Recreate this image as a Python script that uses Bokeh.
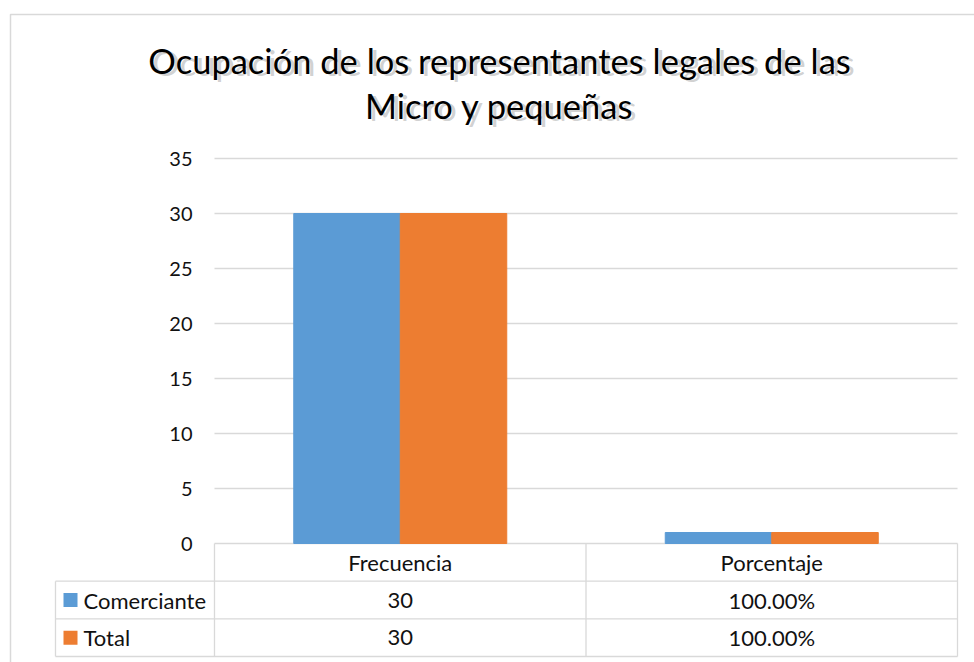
from bokeh.plotting import figure
from bokeh.models import Range1d, FixedTicker, ColumnDataSource
from bokeh.transform import dodge
from bokeh.core.properties import value
from bokeh.embed import file_html
from bokeh.resources import INLINE

# ---- data ----
title_lines = ["Ocupación de los representantes legales de las", "Micro y pequeñas"]
categories = ["Frecuencia", "Porcentaje"]
series_names = ["Comerciante", "Total"]
comerciante = [30, 1.0]
total = [30, 1.0]
table_comerciante = ["30", "100.00%"]
table_total = ["30", "100.00%"]
y_ticks = [0, 5, 10, 15, 20, 25, 30, 35]

# ---- style / layout (pixel geometry of the canvas) ----
series_colors = ["#5B9BD5", "#ED7D31"]
FONT = "Lato"
TXT = "#111111"
GRID = "#d9d9d9"
W, H = 974, 662
X0, X_UNIT = 214.0, 371.5      # canvas px of x=0, px per category
Y0, Y_UNIT = 543.0, 11.0       # canvas px of y=0, px per y unit
ROW_PX = 113.0 / 3.0           # table row height in px


def xc(px):
    return (px - X0) / X_UNIT


def yc(px):
    return (Y0 - px) / Y_UNIT


row_h = ROW_PX / Y_UNIT
n = len(categories)

p = figure(width=W, height=H, title=None,
           x_range=Range1d(xc(0), xc(W)), y_range=Range1d(yc(H), yc(0)),
           x_axis_location=None, y_axis_location="left",
           output_backend="svg", toolbar_location=None,
           min_border_left=0, min_border_right=0, min_border_top=0, min_border_bottom=0)
p.outline_line_color = None
p.background_fill_color = "white"
p.border_fill_color = "white"
p.xgrid.visible = False
p.ygrid.visible = False

ax = p.yaxis[0]
ax.fixed_location = 0
ax.ticker = FixedTicker(ticks=y_ticks)
ax.axis_line_color = None
ax.major_tick_line_color = None
ax.minor_tick_line_color = None
ax.major_tick_out = 0
ax.major_tick_in = 0
ax.major_label_standoff = 22
ax.major_label_text_font = FONT
ax.major_label_text_font_size = "20px"
ax.major_label_text_color = TXT

# outer chart border (top and left edges visible)
p.line(x=[xc(10), xc(10), xc(W + 5)], y=[yc(H + 5), yc(14), yc(14)],
       line_color=GRID, line_width=1.5)

# horizontal grid lines at the y ticks
p.segment(x0=[0] * len(y_ticks), x1=[n] * len(y_ticks), y0=y_ticks, y1=y_ticks,
          line_color=GRID, line_width=1.3)

# bars
xpos = [i + 0.5 for i in range(n)]
src = ColumnDataSource(dict(x=xpos, cat=categories, comerciante=comerciante, total=total,
                            lab_c=table_comerciante, lab_t=table_total))
bw = 106.5 / X_UNIT
p.vbar(x=dodge("x", -bw / 2), top="comerciante", width=bw, color=series_colors[0], source=src)
p.vbar(x=dodge("x", bw / 2), top="total", width=bw, color=series_colors[1], source=src)

# ---- data table under the chart ----
x_tab_left = xc(55)
rows_y = [-row_h * k for k in (1, 2, 3)]
p.segment(x0=[x_tab_left] * 3, x1=[n] * 3, y0=rows_y, y1=rows_y,
          line_color=GRID, line_width=1.3)
vx = [float(i) for i in range(n + 1)]
p.segment(x0=vx + [x_tab_left], x1=vx + [x_tab_left],
          y0=[0] * len(vx) + [-row_h], y1=[-3 * row_h] * (len(vx) + 1),
          line_color=GRID, line_width=1.3)

txt_kw = dict(text_align="center", text_baseline="middle", text_font=value(FONT),
              text_font_size="22px", text_color=TXT, source=src)
p.text(x="x", y=-0.5 * row_h, text="cat", **txt_kw)
p.text(x="x", y=-1.5 * row_h, text="lab_c", **txt_kw)
p.text(x="x", y=-2.5 * row_h, text="lab_t", **txt_kw)

# left column: legend keys and series names
row_c = [-(i + 1.5) * row_h for i in range(len(series_names))]
leg = ColumnDataSource(dict(name=series_names, y=row_c, color=series_colors))
p.scatter(x=xc(70), y="y", marker="square", size=14, fill_color="color",
          line_color=None, source=leg)
p.text(x=xc(83), y="y", text="name", text_align="left", text_baseline="middle",
       text_font=value(FONT), text_font_size="22px", text_color=TXT, source=leg)

# title (two lines with soft shadow)
tsrc = ColumnDataSource(dict(t=title_lines, y=[yc(60), yc(105)]))
p.text(x=xc(501), y="y", text="t", x_offset=2, y_offset=2, text_align="center",
       text_baseline="alphabetic", text_font=value(FONT), text_font_size="34.5px",
       text_color="#9a9a9a", text_alpha=0.45, source=tsrc)
p.text(x=xc(499), y="y", text="t", text_align="center", text_baseline="alphabetic",
       text_font=value(FONT), text_font_size="34.5px", text_color="black", source=tsrc)

open("out.html", "w").write(file_html(p, INLINE, "chart"))
